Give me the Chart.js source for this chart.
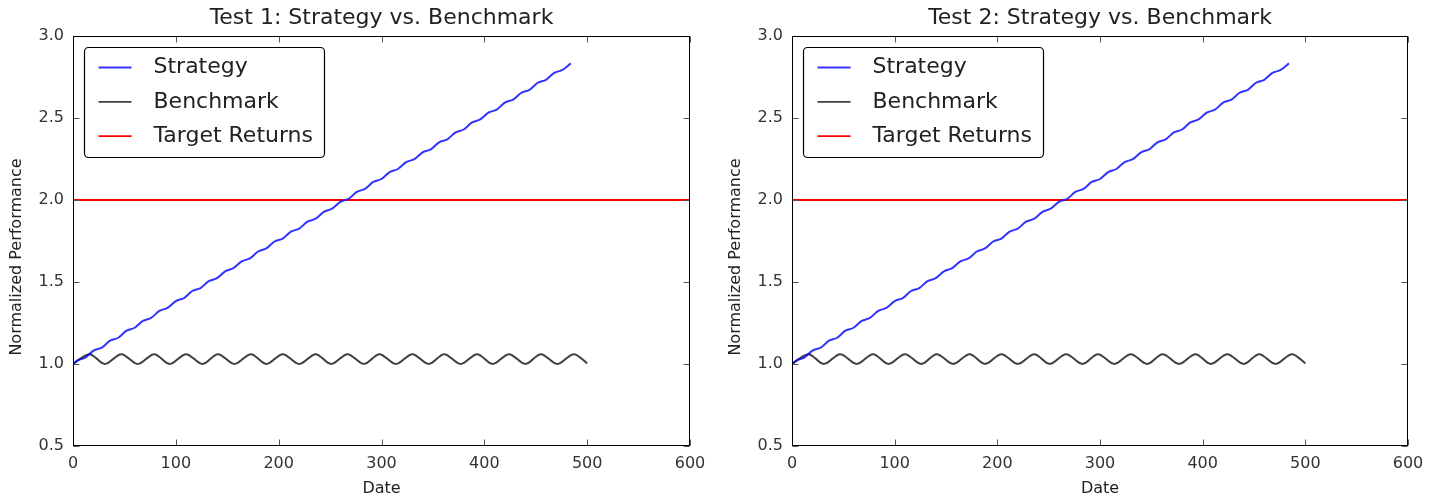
<!DOCTYPE html>
<html>
<head>
<meta charset="utf-8">
<script src="https://cdn.jsdelivr.net/npm/chart.js@4.4.1/dist/chart.umd.min.js"></script>
<style>
body { margin: 0; background: #fff; }
.panel { position: absolute; top: 0; width: 721px; height: 504px; }
</style>
</head>
<body>
<div class="panel" style="left:0"><canvas id="chart1" width="721" height="504"></canvas></div>
<div class="panel" style="left:721px"><canvas id="chart2" width="721" height="504"></canvas></div>
<script>
// values (both tests look the same)
const strategyDates = [0, 4, 12, 20, 28, 36, 44, 52, 60, 68, 76, 84, 92, 100, 108, 116, 124, 132, 140, 148,
  156, 164, 172, 180, 188, 196, 204, 212, 220, 228, 236, 244, 252, 260, 268, 276, 284, 292, 300, 308,
  316, 324, 332, 340, 348, 356, 364, 372, 380, 388, 396, 404, 412, 420, 428, 436, 444, 452, 460, 468,
  476, 484];
const strategyValues = [1.000, 1.021, 1.039, 1.082, 1.100, 1.142, 1.160, 1.203, 1.221, 1.263, 1.281, 1.324,
  1.342, 1.384, 1.402, 1.445, 1.463, 1.505, 1.523, 1.565, 1.584, 1.626, 1.644, 1.686, 1.705, 1.747,
  1.765, 1.807, 1.826, 1.868, 1.886, 1.928, 1.947, 1.989, 2.007, 2.049, 2.068, 2.110, 2.128, 2.170,
  2.189, 2.231, 2.249, 2.291, 2.309, 2.352, 2.370, 2.412, 2.430, 2.473, 2.491, 2.533, 2.551, 2.594,
  2.612, 2.654, 2.672, 2.715, 2.733, 2.775, 2.793, 2.833];

const benchmarkDates = [0, 16, 31, 47, 63, 79, 94, 110, 126, 141, 157, 173, 188, 204, 220, 236, 251,
  267, 283, 298, 314, 330, 346, 361, 377, 393, 408, 424, 440, 455, 471, 487, 500];
const benchmarkValues = [1.00, 1.06, 1.00, 1.06, 1.00, 1.06, 1.00, 1.06, 1.00, 1.06, 1.00, 1.06,
  1.00, 1.06, 1.00, 1.06, 1.00, 1.06, 1.00, 1.06, 1.00, 1.06, 1.00, 1.06, 1.00, 1.06, 1.00, 1.06,
  1.00, 1.06, 1.00, 1.06, 1.004];

const targetDates = [0, 600];
const targetValues = [2.0, 2.0];

const xTicks = [0, 100, 200, 300, 400, 500, 600];
const yTicks = [0.5, 1.0, 1.5, 2.0, 2.5, 3.0];

const FONT = "'DejaVu Sans', sans-serif";

const toPoints = (xs, ys) => xs.map((x, i) => ({ x: x, y: ys[i] }));

// frame, inward ticks, y label and the legend box, like the matplotlib look
const framePlugin = {
  id: 'frame',
  afterDraw(chart) {
    const { ctx, chartArea: a, scales } = chart;
    const l = Math.round(a.left) + 0.5, r = Math.round(a.right) - 0.5;
    const t = Math.round(a.top) + 0.5, b = Math.round(a.bottom) - 0.5;
    ctx.save();
    ctx.strokeStyle = '#555';
    ctx.lineWidth = 1;
    ctx.beginPath();
    xTicks.forEach((v) => {
      const px = Math.round(scales.x.getPixelForValue(v)) + 0.5;
      ctx.moveTo(px, b); ctx.lineTo(px, b - 6);
      ctx.moveTo(px, t); ctx.lineTo(px, t + 6);
    });
    yTicks.forEach((v) => {
      const py = Math.round(scales.y.getPixelForValue(v)) + 0.5;
      ctx.moveTo(l, py); ctx.lineTo(l + 6, py);
      ctx.moveTo(r, py); ctx.lineTo(r - 6, py);
    });
    ctx.stroke();
    ctx.strokeStyle = '#000';
    ctx.strokeRect(l, t, r - l, b - t);

    // y axis label, sits a bit below the middle in the original
    ctx.save();
    ctx.translate(l - 57, (t + b) / 2 + 16);
    ctx.rotate(-Math.PI / 2);
    ctx.font = '16px ' + FONT;
    ctx.fillStyle = '#222';
    ctx.textAlign = 'center';
    ctx.textBaseline = 'middle';
    ctx.fillText('Normalized Performance', 0, 0);
    ctx.restore();

    // legend
    const bx = l + 11, by = t + 11, bw = 240, bh = 110;
    ctx.beginPath();
    ctx.roundRect(bx, by, bw, bh, 4);
    ctx.fillStyle = '#fff';
    ctx.fill();
    ctx.lineWidth = 1.2;
    ctx.strokeStyle = '#000';
    ctx.stroke();
    ctx.font = '22px ' + FONT;
    ctx.textBaseline = 'middle';
    ctx.fillStyle = '#222';
    chart.data.datasets.forEach((ds, i) => {
      const ry = by + 20 + i * 34.3;
      ctx.beginPath();
      ctx.strokeStyle = ds.borderColor;
      ctx.lineWidth = 1.8;
      ctx.moveTo(bx + 14, ry); ctx.lineTo(bx + 47, ry);
      ctx.stroke();
      ctx.fillText(ds.label, bx + 69, ry);
    });
    ctx.restore();
  }
};

const makeChart = (id, title, leftWidth, rightPad) => {
  return new Chart(document.getElementById(id), {
    type: 'line',
    data: {
      datasets: [
        {
          label: 'Strategy',
          data: toPoints(strategyDates, strategyValues),
          borderColor: 'rgba(0,0,255,0.8)',
          borderWidth: 2,
          pointRadius: 0,
          cubicInterpolationMode: 'monotone'
        },
        {
          label: 'Benchmark',
          data: toPoints(benchmarkDates, benchmarkValues),
          borderColor: 'rgba(0,0,0,0.75)',
          borderWidth: 2,
          pointRadius: 0,
          cubicInterpolationMode: 'monotone'
        },
        {
          label: 'Target Returns',
          data: toPoints(targetDates, targetValues),
          borderColor: '#ff0000',
          borderWidth: 1.8,
          pointRadius: 0
        }
      ]
    },
    options: {
      responsive: false,
      animation: false,
      devicePixelRatio: 1,
      layout: { padding: { left: 0, right: rightPad, top: 0, bottom: 0 } },
      plugins: {
        legend: { display: false },
        tooltip: { enabled: false },
        title: {
          display: true,
          text: title,
          fullSize: false,
          color: '#222',
          font: { family: FONT, size: 22, weight: 'normal', lineHeight: 1.2 },
          padding: { top: 5, bottom: 4.6 }
        }
      },
      scales: {
        x: {
          type: 'linear',
          min: 0,
          max: 600,
          afterBuildTicks: (s) => { s.ticks = xTicks.map((v) => ({ value: v })); },
          afterFit: (s) => { s.height = 58; },
          grid: { display: false, drawTicks: false },
          border: { display: false },
          ticks: { color: '#333', padding: 8, maxRotation: 0, font: { family: FONT, size: 16 } },
          title: { display: true, text: 'Date', color: '#222', padding: { top: 0, bottom: 6 },
            font: { family: FONT, size: 16 } }
        },
        y: {
          type: 'linear',
          min: 0.5,
          max: 3.0,
          afterBuildTicks: (s) => { s.ticks = yTicks.map((v) => ({ value: v })); },
          afterFit: (s) => { s.width = leftWidth; },
          grid: { display: false, drawTicks: false },
          border: { display: false },
          ticks: { color: '#333', padding: 9, callback: (v) => v.toFixed(1), font: { family: FONT, size: 16 } },
          title: { display: false }
        }
      }
    },
    plugins: [framePlugin]
  });
};

makeChart('chart1', 'Test 1: Strategy vs. Benchmark', 73, 31);
makeChart('chart2', 'Test 2: Strategy vs. Benchmark', 71, 34);
</script>
</body>
</html>
